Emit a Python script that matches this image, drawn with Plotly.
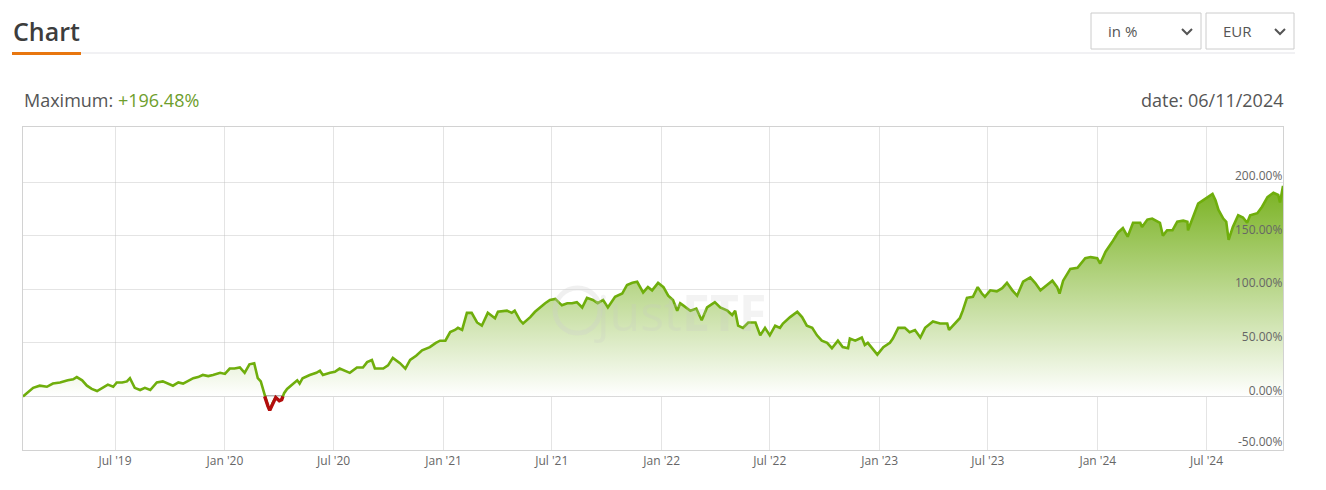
import numpy as np
import pandas as pd
import plotly.graph_objects as go

# ---------------- data ----------------
dates = [
    "2019-01-28", "2019-02-14", "2019-02-25", "2019-03-09", "2019-03-19", "2019-03-31",
    "2019-04-13", "2019-04-22", "2019-04-28", "2019-05-07", "2019-05-15", "2019-05-23",
    "2019-06-01", "2019-06-11", "2019-06-19", "2019-06-28", "2019-07-04", "2019-07-13",
    "2019-07-21", "2019-07-26", "2019-08-03", "2019-08-12", "2019-08-20", "2019-08-29",
    "2019-09-09", "2019-09-19", "2019-09-28", "2019-10-06", "2019-10-15", "2019-10-23",
    "2019-11-09", "2019-11-17", "2019-11-25", "2019-12-04", "2019-12-12", "2019-12-24",
    "2020-01-01", "2020-01-09", "2020-01-17", "2020-01-26", "2020-02-03", "2020-02-11",
    "2020-02-19", "2020-02-25", "2020-03-01", "2020-03-08", "2020-03-13", "2020-03-16",
    "2020-03-21", "2020-03-26", "2020-04-01", "2020-04-05", "2020-04-09", "2020-04-14",
    "2020-04-22", "2020-05-01", "2020-05-05", "2020-05-10", "2020-05-22", "2020-06-02",
    "2020-06-08", "2020-06-13", "2020-06-25", "2020-07-03", "2020-07-11", "2020-07-20",
    "2020-07-28", "2020-08-09", "2020-08-19", "2020-08-26", "2020-09-03", "2020-09-08",
    "2020-09-22", "2020-09-30", "2020-10-08", "2020-10-20", "2020-10-29", "2020-11-06",
    "2020-11-16", "2020-11-26", "2020-12-09", "2020-12-19", "2020-12-26",
    "2021-01-04", "2021-01-12", "2021-01-20", "2021-01-25", "2021-02-01", "2021-02-09",
    "2021-02-17", "2021-02-26", "2021-03-06", "2021-03-16", "2021-03-28", "2021-04-02",
    "2021-04-17", "2021-04-25", "2021-04-30", "2021-05-09", "2021-05-14", "2021-05-26",
    "2021-06-03", "2021-06-11", "2021-06-20", "2021-06-28", "2021-07-07", "2021-07-18",
    "2021-07-27", "2021-08-04", "2021-08-12", "2021-08-21", "2021-08-29", "2021-09-08",
    "2021-09-16", "2021-09-25", "2021-10-03", "2021-10-15", "2021-10-27", "2021-11-04",
    "2021-11-13", "2021-11-21", "2021-12-01", "2021-12-09", "2021-12-16", "2021-12-26",
    "2022-01-04", "2022-01-12", "2022-01-20", "2022-01-27", "2022-02-01", "2022-02-06",
    "2022-02-18", "2022-02-28", "2022-03-09", "2022-03-18", "2022-03-31", "2022-04-09",
    "2022-04-21", "2022-04-29", "2022-05-04", "2022-05-09", "2022-05-17", "2022-05-26",
    "2022-06-07", "2022-06-15", "2022-06-23", "2022-07-01", "2022-07-10", "2022-07-18",
    "2022-07-23", "2022-08-04", "2022-08-16", "2022-08-24", "2022-09-01", "2022-09-10",
    "2022-09-18", "2022-09-26", "2022-10-05", "2022-10-13", "2022-10-23", "2022-10-31",
    "2022-11-09", "2022-11-12", "2022-11-21", "2022-12-02", "2022-12-07", "2022-12-12",
    "2022-12-19", "2022-12-28",
    "2023-01-07", "2023-01-18", "2023-01-23", "2023-02-01", "2023-02-12", "2023-02-20",
    "2023-03-01", "2023-03-10", "2023-03-18", "2023-03-31", "2023-04-12", "2023-04-24",
    "2023-04-27", "2023-05-07", "2023-05-15", "2023-05-20", "2023-05-27", "2023-06-06",
    "2023-06-14", "2023-06-21", "2023-06-26", "2023-07-05", "2023-07-16", "2023-07-25",
    "2023-08-02", "2023-08-11", "2023-08-19", "2023-08-29", "2023-09-10", "2023-09-18",
    "2023-09-27", "2023-10-08", "2023-10-17", "2023-10-25", "2023-10-29", "2023-11-04",
    "2023-11-16", "2023-11-28", "2023-12-11", "2023-12-20", "2023-12-31",
    "2024-01-05", "2024-01-14", "2024-01-25", "2024-02-04", "2024-02-12", "2024-02-20",
    "2024-02-29", "2024-03-12", "2024-03-15", "2024-03-24", "2024-04-01", "2024-04-09",
    "2024-04-14", "2024-04-19", "2024-04-26", "2024-05-05", "2024-05-13", "2024-05-23",
    "2024-05-30", "2024-05-31", "2024-06-09", "2024-06-17", "2024-06-25", "2024-07-11",
    "2024-07-16", "2024-07-21", "2024-07-29", "2024-08-03", "2024-08-07", "2024-08-14",
    "2024-08-23", "2024-08-31", "2024-09-07", "2024-09-12", "2024-09-24", "2024-10-02",
    "2024-10-11", "2024-10-21", "2024-10-29", "2024-11-01", "2024-11-06",
]

perf_pct = [
    0, 8, 10, 9, 12, 13,
    15, 16, 18, 15, 10, 7,
    5, 8, 11, 9, 13, 13,
    14, 17, 8, 6, 8, 6,
    13, 14, 12, 10, 13, 12,
    17, 18, 20, 19, 20, 22,
    21, 26, 26, 27, 22, 30,
    31, 17, 14, -1, -9, -13,
    -6, -1, -4, -3, 3, 7,
    11, 15, 12, 17, 20, 22,
    24, 20, 22, 23, 26, 24,
    22, 27, 27, 32, 34, 26,
    26, 29, 36, 31, 26, 34,
    38, 43, 46, 50, 52,
    52, 60, 62, 64, 62, 78,
    78, 69, 66, 78, 73, 79,
    80, 78, 80, 71, 68, 74,
    79, 83, 87, 90, 91, 85,
    87, 87, 88, 83, 92, 90,
    87, 90, 83, 93, 96, 104,
    106, 107, 97, 102, 99, 106,
    102, 94, 90, 80, 87, 85,
    80, 82, 71, 83, 88, 83,
    80, 76, 80, 66, 64, 69,
    69, 57, 64, 57, 66, 64,
    68, 74, 79, 74, 66, 64,
    57, 52, 50, 45, 52, 46,
    45, 54, 52, 55, 48, 50,
    45, 39,
    46, 50, 54, 64, 64, 60,
    62, 55, 64, 70, 68, 68,
    62, 68, 73, 80, 92, 93,
    102, 96, 93, 99, 98, 101,
    106, 99, 94, 107, 111, 106,
    99, 104, 108, 102, 96, 108,
    119, 120, 129, 130, 129,
    124, 135, 144, 153, 157, 149,
    162, 162, 158, 165, 166, 164,
    162, 150, 155, 155, 163, 164,
    163, 155, 169, 180, 183, 189,
    183, 174, 166, 163, 146, 158,
    169, 167, 162, 169, 171, 177,
    186, 190, 188, 181, 196.48,
]

y_tick_vals = [-50, 0, 50, 100, 150, 200]
x_range = ["2019-01-28", "2024-11-06"]
y_range = [-50, 251.4]
max_label = "+196.48%"
date_label = "06/11/2024"

# ---------------- figure geometry ----------------
# the page body has an 8px margin, so the figure origin sits at (8, 8)
OFF = 8
W, H = 1310, 474
PL, PR, PT, PB = 23, 1283, 127, 450  # plot area in window pixels


def px(xp):
    return (xp - PL) / (PR - PL)


def py(yp):
    return (PB - yp) / (PB - PT)


GREEN = "#6fae0c"
RED = "#b30d0d"
FONT = "Open Sans"
TICKFONT = dict(size=12, color="#666", family=FONT)

x = pd.to_datetime(pd.Series(dates))
v = np.array(perf_pct, dtype=float)

# negative part of the line (drawn in red, split at zero crossings)
red_x, red_y = [], []
for i in range(len(v) - 1):
    a, b = v[i], v[i + 1]
    if a >= 0 and b >= 0:
        continue
    xa, xb = x[i], x[i + 1]
    if a >= 0 > b or b >= 0 > a:
        t = a / (a - b)
        xc = xa + (xb - xa) * t
    if a >= 0 > b:
        red_x += [xc, xb]
        red_y += [0, b]
    elif a < 0 and b < 0:
        red_x += [xa, xb]
        red_y += [a, b]
    else:  # a < 0 <= b
        red_x += [xa, xc, None]
        red_y += [a, 0, None]

fig = go.Figure()

fig.add_trace(go.Scatter(
    x=x, y=v, mode="lines",
    line=dict(color=GREEN, width=2.6),
    fill="tozeroy",
    fillgradient=dict(
        type="vertical",
        start=0, stop=200,
        colorscale=[[0, "rgb(255,255,255)"],
                    [1, "rgb(118,176,28)"]],
    ),
    hoverinfo="skip", showlegend=False,
))

fig.add_trace(go.Scatter(
    x=red_x, y=red_y, mode="lines",
    line=dict(color=RED, width=3.4),
    connectgaps=False, hoverinfo="skip", showlegend=False,
))

fig.update_layout(
    width=W, height=H,
    margin=dict(l=PL - OFF, r=W - (PR - OFF), t=PT - OFF, b=H - (PB - OFF), pad=0),
    paper_bgcolor="white", plot_bgcolor="white",
    font=dict(family=FONT, color="#666"),
    showlegend=False,
)

GRID = "rgba(190,190,190,0.42)"

fig.update_xaxes(
    type="date", range=x_range,
    tick0="2019-01-01", dtick="M6", tickformat="%b '%y",
    showgrid=True, gridcolor=GRID, gridwidth=1,
    showline=True, linecolor="#d2d2d2", linewidth=1, mirror=True,
    ticks="", tickfont=TICKFONT,
    zeroline=False, fixedrange=True, layer="above traces",
)

fig.update_yaxes(
    range=y_range, side="right",
    tickvals=y_tick_vals,
    ticktext=[f"{t:.2f}%" for t in y_tick_vals],
    ticklabelposition="inside", ticklabelshift=-6, ticklabelstandoff=0,
    tickfont=TICKFONT,
    showgrid=True, gridcolor=GRID, gridwidth=1,
    showline=True, linecolor="#d2d2d2", linewidth=1, mirror=True,
    zeroline=True, zerolinecolor="#b4b4b4", zerolinewidth=1.5,
    ticks="", fixedrange=True, layer="above traces",
)

shapes = []
annotations = []

# the lowest axis label sits on the bottom border; plotly hides it, so place it explicitly
annotations.append(dict(
    xref="paper", yref="y", x=1, y=y_tick_vals[0], xanchor="right", yanchor="bottom",
    text=f"{y_tick_vals[0]:.2f}%", showarrow=False, font=TICKFONT,
    xshift=1, yshift=-2,
))

# header: title, underline, separator
annotations.append(dict(
    xref="paper", yref="paper", x=px(11), y=py(31), xanchor="left", yanchor="middle",
    text="Chart", showarrow=False,
    font=dict(family=FONT, size=25, color="#3d3d3d", weight=600),
))
shapes.append(dict(type="line", xref="paper", yref="paper",
                   x0=px(81), x1=px(1295), y0=py(53), y1=py(53),
                   line=dict(color="#e3e3e8", width=1)))
shapes.append(dict(type="line", xref="paper", yref="paper",
                   x0=px(12), x1=px(81), y0=py(53.5), y1=py(53.5),
                   line=dict(color="#e8760f", width=3)))

# dropdown boxes
for (x0, x1, label, chev) in [(1091, 1201, "in %", 1187), (1206, 1294, "EUR", 1280)]:
    shapes.append(dict(type="rect", xref="paper", yref="paper",
                       x0=px(x0), x1=px(x1), y0=py(49), y1=py(13),
                       line=dict(color="#cccccc", width=1), fillcolor="white"))
    annotations.append(dict(
        xref="paper", yref="paper", x=px(x0 + 15), y=py(31),
        xanchor="left", yanchor="middle", text=label, showarrow=False,
        font=dict(family=FONT, size=15, color="#555"),
    ))
    shapes.append(dict(
        type="path", xref="paper", yref="paper",
        path=f"M {px(chev - 5)} {py(29)} L {px(chev)} {py(34)} L {px(chev + 5)} {py(29)}",
        line=dict(color="#555", width=2),
    ))

# maximum / date labels
annotations.append(dict(
    xref="paper", yref="paper", x=px(22), y=py(100), xanchor="left", yanchor="middle",
    text=f"Maximum: <span style='color:#6e9e2c'>{max_label}</span>", showarrow=False,
    font=dict(family=FONT, size=18, color="#555"),
))
annotations.append(dict(
    xref="paper", yref="paper", x=px(1285), y=py(100), xanchor="right", yanchor="middle",
    text=f"date: {date_label}", showarrow=False,
    font=dict(family=FONT, size=18, color="#555"),
))

# watermark
annotations.append(dict(
    xref="paper", yref="paper", x=px(680), y=py(312), xanchor="center", yanchor="middle",
    text="just<b>ETF</b>", showarrow=False, opacity=0.2,
    font=dict(family=FONT, size=50, color="#c8c8c8"),
))
shapes.append(dict(type="circle", xref="paper", yref="paper",
                   x0=px(555), x1=px(600), y0=py(333), y1=py(288),
                   line=dict(color="rgba(205,205,205,0.3)", width=5)))

fig.update_layout(shapes=shapes, annotations=annotations)

fig.write_html("out.html")
